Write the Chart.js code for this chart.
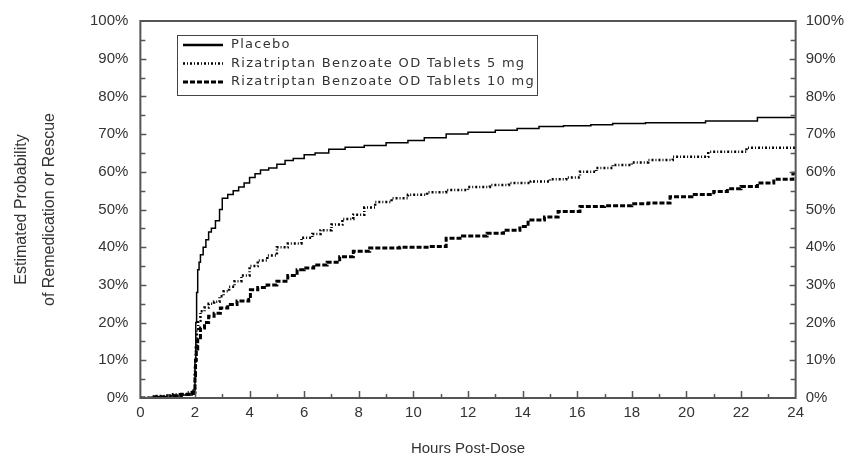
<!DOCTYPE html>
<html>
<head>
<meta charset="utf-8">
<script src="https://cdn.jsdelivr.net/npm/chart.js@4.4.1/dist/chart.umd.min.js"></script>
<style>
  html, body { margin: 0; padding: 0; background: #fff; }
  #wrap { width: 859px; height: 462px; }
</style>
</head>
<body>
<div id="wrap"><canvas id="kmChart" width="859" height="462"></canvas></div>
<script>
// values (hours, % remedicated)
var placeboHours = [0, 0.5, 1.0, 1.5, 1.9, 2.0, 2.03, 2.06, 2.1, 2.15, 2.2, 2.3, 2.4, 2.5, 2.6, 2.75, 2.9, 3.0, 3.2, 3.4, 3.6, 3.8, 4.0, 4.2, 4.4, 4.7, 5.0, 5.3, 5.6, 6.0, 6.4, 6.9, 7.5, 8.2, 9.0, 9.8, 10.4, 11.2, 12.0, 13.0, 13.8, 14.6, 15.5, 16.5, 17.3, 18.5, 20.7, 22.6, 24];
var placeboPct = [0, 0.3, 0.5, 0.8, 1.0, 10, 20, 28, 34, 36, 38, 40, 42, 44, 45, 47, 50, 53, 54, 55, 56, 57, 58.5, 59.5, 60.5, 61, 62, 63, 63.5, 64.5, 65, 66, 66.5, 67, 67.7, 68.3, 69, 70, 70.5, 71, 71.5, 72, 72.2, 72.5, 72.8, 73, 73.5, 74.4, 74.5];

var odt5Hours = [0, 0.6, 1.2, 1.7, 1.95, 2.0, 2.03, 2.07, 2.12, 2.2, 2.35, 2.5, 2.7, 2.9, 3.05, 3.25, 3.45, 3.7, 4.0, 4.3, 4.65, 5.0, 5.4, 5.9, 6.3, 6.6, 7.0, 7.4, 7.8, 8.2, 8.6, 9.2, 9.8, 10.5, 11.2, 12.0, 12.8, 13.5, 14.3, 15.0, 15.6, 16.1, 16.7, 17.3, 18.0, 18.6, 19.5, 20.8, 22.2, 24];
var odt5Pct = [0, 0.5, 1, 1.5, 2, 8, 14, 18, 20.5, 23, 24, 25, 25.5, 27, 28.3, 29.5, 31, 32.5, 35, 36.5, 37.8, 40, 41, 42.5, 43.5, 44.5, 46, 47.5, 48.6, 50.5, 52, 53, 53.9, 54.6, 55.2, 56, 56.5, 57, 57.4, 58, 58.5, 60, 61, 61.8, 62.5, 63.1, 64, 65.3, 66.4, 66.5];

var odt10Hours = [0, 0.5, 1.0, 1.5, 1.9, 2.0, 2.02, 2.05, 2.1, 2.2, 2.35, 2.5, 2.7, 2.93, 3.2, 3.54, 3.97, 4.03, 4.3, 4.64, 5.0, 5.4, 5.74, 6.0, 6.35, 6.84, 7.3, 7.8, 8.4, 9.5, 10.6, 11.2, 11.8, 12.7, 13.3, 13.9, 14.2, 14.8, 15.3, 16.1, 17.0, 18.0, 18.6, 19.4, 20.2, 21.0, 21.5, 22.0, 22.6, 23.2, 23.9, 24];
var odt10Pct = [0, 0.3, 0.6, 1.0, 1.5, 6, 10, 13, 16, 18.6, 20, 21.7, 22.5, 23.9, 24.8, 25.7, 26.1, 28.7, 29.3, 30, 31, 32.5, 34, 34.5, 35.3, 36, 37.5, 38.9, 39.8, 40, 40.2, 42.4, 43, 43.7, 44.5, 45.5, 47.2, 48, 49.5, 50.8, 51, 51.5, 51.7, 53.4, 54, 54.8, 55.5, 56.1, 57, 58, 59.6, 60];

var seriesLabels = ['Placebo', 'Rizatriptan Benzoate OD Tablets 5 mg', 'Rizatriptan Benzoate OD Tablets 10 mg'];
var xTitle = 'Hours Post-Dose';
var yTitle = ['Estimated Probability', 'of Remedication or Rescue'];

function toPoints(hours, pct) {
    return hours.map(function (h, i) { return { x: h, y: pct[i] }; });
}

var axisFont = { family: 'Liberation Sans, Arial, sans-serif', size: 15 };
var titleFont = { family: 'Liberation Sans, Arial, sans-serif', size: 16, lineHeight: 1.75 };
var textColor = '#333';

// frame, inward tick marks and the boxed legend
var framePlugin = {
    id: 'framePlugin',
    afterDraw: function (chart) {
        var ctx = chart.ctx;
        var a = chart.chartArea;
        var xs = chart.scales.x, ys = chart.scales.y;
        ctx.save();
        ctx.strokeStyle = '#555';
        ctx.lineWidth = 2;
        ctx.strokeRect(a.left, a.top, a.right - a.left, a.bottom - a.top);

        ctx.lineWidth = 1.5;
        ctx.beginPath();
        for (var h = 1; h < 24; h++) {
            var px = Math.round(xs.getPixelForValue(h)) + 0.5;
            var len = (h % 2 === 0) ? 7 : 4;
            ctx.moveTo(px, a.bottom);
            ctx.lineTo(px, a.bottom - len);
        }
        for (var p = 5; p < 100; p += 5) {
            var py = Math.round(ys.getPixelForValue(p)) + 0.5;
            var l = (p % 10 === 0) ? 6 : 5;
            ctx.moveTo(a.left, py);
            ctx.lineTo(a.left + l, py);
            ctx.moveTo(a.right, py);
            ctx.lineTo(a.right - l, py);
        }
        ctx.stroke();

        // legend
        var bx = 177, by = 35, bw = 360, bh = 60;
        ctx.lineWidth = 1;
        ctx.strokeStyle = '#444';
        ctx.strokeRect(bx + 0.5, by + 0.5, bw, bh);
        ctx.font = '13px "DejaVu Sans", sans-serif';
        ctx.letterSpacing = '1.3px';
        ctx.textBaseline = 'middle';
        chart.data.datasets.forEach(function (ds, i) {
            var yy = by + 10 + i * 18.5;
            ctx.save();
            ctx.strokeStyle = ds.borderColor;
            ctx.lineWidth = Math.max(ds.borderWidth, 2.5);
            ctx.setLineDash(ds.borderDash || []);
            ctx.beginPath();
            ctx.moveTo(bx + 6, yy);
            ctx.lineTo(bx + 46, yy);
            ctx.stroke();
            ctx.restore();
            ctx.fillStyle = textColor;
            ctx.fillText(ds.label, bx + 54, yy);
        });
        ctx.restore();
    }
};

var ctx = document.getElementById('kmChart').getContext('2d');
var chart = new Chart(ctx, {
    type: 'line',
    data: {
        datasets: [{
            label: seriesLabels[0],
            data: toPoints(placeboHours, placeboPct),
            borderColor: '#000',
            borderWidth: 1.5,
            stepped: true,
            pointRadius: 0
        }, {
            label: seriesLabels[1],
            data: toPoints(odt5Hours, odt5Pct),
            borderColor: '#000',
            borderWidth: 2.5,
            borderDash: [2, 2, 1, 2],
            stepped: true,
            pointRadius: 0
        }, {
            label: seriesLabels[2],
            data: toPoints(odt10Hours, odt10Pct),
            borderColor: '#000',
            borderWidth: 3,
            borderDash: [5, 2],
            stepped: true,
            pointRadius: 0
        }]
    },
    options: {
        responsive: false,
        animation: false,
        layout: { padding: { left: 8, right: 5, top: 11, bottom: 4 } },
        plugins: {
            legend: { display: false },
            tooltip: { enabled: false }
        },
        scales: {
            x: {
                type: 'linear',
                min: 0,
                max: 24,
                grid: { display: false, drawTicks: false },
                border: { display: false },
                ticks: { stepSize: 2, color: textColor, font: axisFont, padding: 6, maxRotation: 0 },
                title: { display: true, text: xTitle, color: textColor, font: axisFont, padding: { top: 12, bottom: 0 } }
            },
            y: {
                position: 'left',
                min: 0,
                max: 100,
                grid: { display: false, drawTicks: false },
                border: { display: false },
                ticks: {
                    stepSize: 10, color: textColor, font: axisFont, padding: 12,
                    callback: function (v) { return v + '%'; }
                },
                title: { display: true, text: yTitle, color: textColor, font: titleFont, padding: { top: 0, bottom: 14 } }
            },
            y2: {
                position: 'right',
                min: 0,
                max: 100,
                grid: { display: false, drawTicks: false },
                border: { display: false },
                ticks: {
                    stepSize: 10, color: textColor, font: axisFont, padding: 10,
                    callback: function (v) { return v + '%'; }
                }
            }
        }
    },
    plugins: [framePlugin]
});
</script>
</body>
</html>
